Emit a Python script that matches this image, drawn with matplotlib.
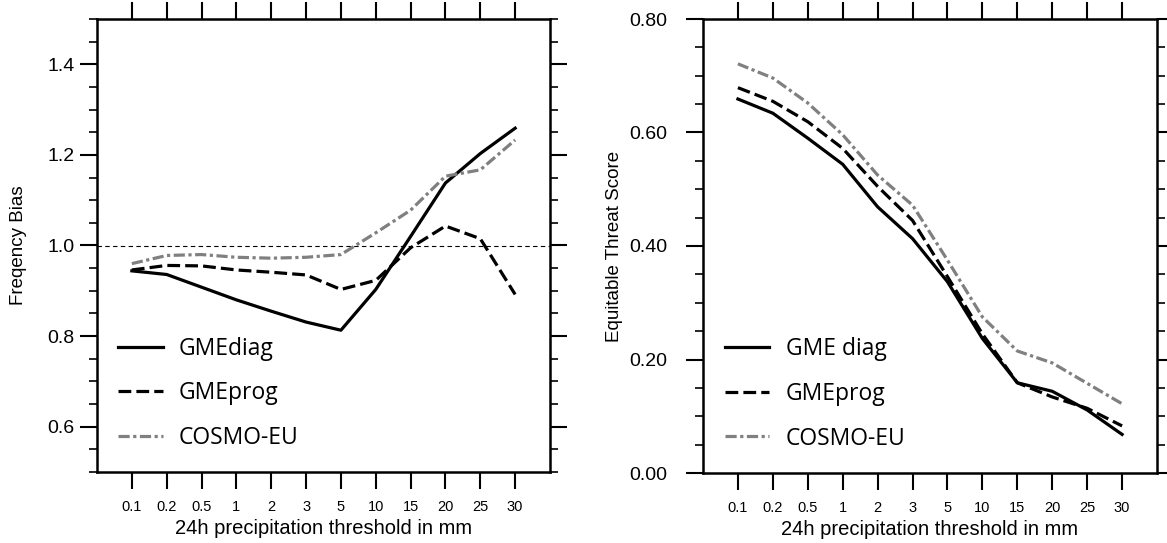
import matplotlib
matplotlib.use("Agg")
import matplotlib.pyplot as plt
from matplotlib.ticker import MultipleLocator, FormatStrFormatter
import numpy as np

# thresholds (categorical x axis)
thresholds = ["0.1", "0.2", "0.5", "1", "2", "3", "5", "10", "15", "20", "25", "30"]

# frequency bias (left panel)
fbi_gmediag = [0.944, 0.936, 0.908, 0.880, 0.855, 0.831, 0.813, 0.903, 1.020, 1.138, 1.203, 1.259]
fbi_gmeprog = [0.946, 0.956, 0.955, 0.946, 0.941, 0.935, 0.903, 0.923, 0.995, 1.043, 1.015, 0.892]
fbi_cosmo = [0.960, 0.978, 0.980, 0.974, 0.972, 0.974, 0.980, 1.028, 1.078, 1.153, 1.167, 1.233]

# equitable threat score (right panel)
ets_gmediag = [0.659, 0.634, 0.590, 0.544, 0.469, 0.413, 0.337, 0.237, 0.159, 0.144, 0.111, 0.068]
ets_gmeprog = [0.679, 0.655, 0.619, 0.572, 0.505, 0.445, 0.346, 0.245, 0.159, 0.134, 0.114, 0.083]
ets_cosmo = [0.721, 0.696, 0.652, 0.596, 0.525, 0.472, 0.375, 0.275, 0.215, 0.194, 0.158, 0.122]

plt.rcParams["font.family"] = ["Liberation Sans", "DejaVu Sans"]

x = np.arange(1, len(thresholds) + 1)

fig = plt.figure(figsize=(11.67, 5.43), dpi=100)
ax1 = fig.add_axes([97 / 1167, 1 - 472 / 543, 453 / 1167, 453 / 543])
ax2 = fig.add_axes([703 / 1167, 1 - 473 / 543, 454 / 1167, 454 / 543])

solid = dict(color="black", lw=2.3, linestyle="-")
dashed = dict(color="black", lw=2.3, linestyle=(0, (4, 1.6)))
dashdot = dict(color="#808080", lw=2.3, linestyle=(0, (3.5, 1.1, 1.0, 1.1)))


def style_axes(ax, ylim, major, minor, fmt, ypad):
    ax.set_xlim(0, 13)
    ax.set_ylim(*ylim)
    ax.set_xticks(x)
    ax.set_xticklabels(thresholds, fontsize=10.5)
    ax.yaxis.set_major_locator(MultipleLocator(major))
    ax.yaxis.set_minor_locator(MultipleLocator(minor))
    ax.yaxis.set_major_formatter(FormatStrFormatter(fmt))
    ax.tick_params(axis="x", which="major", direction="out", length=12, width=1.5,
                   top=True, bottom=True, labeltop=False, pad=8)
    ax.tick_params(axis="y", which="major", direction="out", length=12, width=1.5,
                   left=True, right=True, labelright=False, labelsize=14, pad=ypad)
    ax.tick_params(axis="y", which="minor", direction="out", length=6, width=1.2,
                   left=True, right=True)
    ax.tick_params(axis="x", which="minor", bottom=False, top=False)
    for s in ax.spines.values():
        s.set_linewidth(1.8)


# ---- left: frequency bias ----
ax1.axhline(1.0, color="black", lw=0.8, linestyle=(0, (4, 3)))
ax1.plot(x, fbi_gmediag, label="GMEdiag", **solid)
ax1.plot(x, fbi_gmeprog, label="GMEprog", **dashed)
ax1.plot(x, fbi_cosmo, label="COSMO-EU", **dashdot)
style_axes(ax1, (0.5, 1.5), 0.2, 0.05, "%.1f", 4)
ax1.set_xlabel("24h precipitation threshold in mm", fontsize=14.5)
ax1.set_ylabel("Freqency Bias", fontsize=13.5)
ax1.xaxis.set_label_coords(0.5, -0.104)
ax1.yaxis.set_label_coords(-0.155, 0.5)
ax1.legend(loc="upper left", bbox_to_anchor=(0.046, 0.299), frameon=False,
           prop={"family": "Open Sans", "size": 16.5}, handlelength=1.95,
           handletextpad=0.7, labelspacing=0.9, borderpad=0, borderaxespad=0)

# ---- right: equitable threat score ----
ax2.plot(x, ets_gmediag, label="GME diag", **solid)
ax2.plot(x, ets_gmeprog, label="GMEprog", **dashed)
ax2.plot(x, ets_cosmo, label="COSMO-EU", **dashdot)
style_axes(ax2, (0.0, 0.8), 0.2, 0.05, "%.2f", 14)
ax2.set_xlabel("24h precipitation threshold in mm", fontsize=14.5)
ax2.set_ylabel("Equitable Threat Score", fontsize=13.5)
ax2.xaxis.set_label_coords(0.5, -0.104)
ax2.yaxis.set_label_coords(-0.176, 0.5)
ax2.legend(loc="upper left", bbox_to_anchor=(0.048, 0.299), frameon=False,
           prop={"family": "Open Sans", "size": 16.5}, handlelength=1.95,
           handletextpad=0.7, labelspacing=0.9, borderpad=0, borderaxespad=0)

fig.savefig("out.png", dpi=100)
